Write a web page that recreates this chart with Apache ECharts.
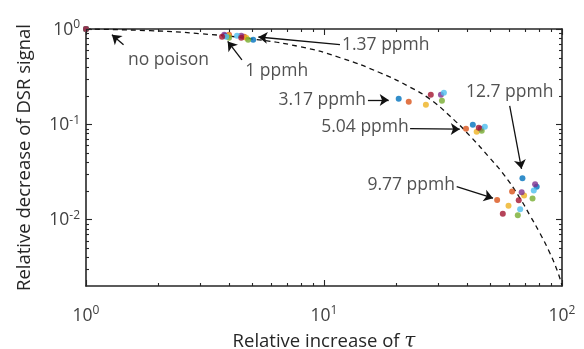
<!DOCTYPE html>
<html>
<head>
<meta charset="utf-8">
<script src="https://cdn.jsdelivr.net/npm/echarts@6/dist/echarts.min.js"></script>
<style>
  html, body { margin: 0; padding: 0; background: #fff; }
  #chart { width: 584px; height: 349px; }
</style>
</head>
<body>
<div id="chart"></div>
<script>
// axis ticks
const xTicks = [1, 10, 100];
const yTicks = [0.01, 0.1, 1];
const xMinor = [2, 3, 4, 5, 6, 7, 8, 9, 20, 30, 40, 50, 60, 70, 80, 90];
const yMinor = [0.003, 0.004, 0.005, 0.006, 0.007, 0.008, 0.009,
  0.02, 0.03, 0.04, 0.05, 0.06, 0.07, 0.08, 0.09,
  0.2, 0.3, 0.4, 0.5, 0.6, 0.7, 0.8, 0.9];

// measured points, one array per sample (no poison, 1, 1.37, 3.17, 5.04, 12.7, 9.77 ppmh)
const blueData = [[1, 1], [3.84, 0.850], [5.04, 0.772], [20.6, 0.185], [42.2, 0.0986], [68.2, 0.0271], [78.3, 0.0220]];
const orangeData = [[1, 1], [3.99, 0.871], [4.62, 0.830], [22.7, 0.172], [39.5, 0.0895], [61.7, 0.0196], [53.4, 0.0160]];
const yellowData = [[1, 1], [3.96, 0.850], [4.71, 0.810], [26.8, 0.160], [43.8, 0.0834], [69.3, 0.0178], [59.6, 0.0139]];
const purpleData = [[1, 1], [3.81, 0.871], [4.49, 0.850], [31.0, 0.204], [45.6, 0.0895], [67.7, 0.0193], [77.1, 0.0234]];
const greenData = [[1, 1], [3.99, 0.810], [4.80, 0.772], [31.3, 0.176], [46.0, 0.0853], [75.2, 0.0166], [65.2, 0.0111]];
const cyanData = [[1, 1], [3.88, 0.830], [4.31, 0.850], [31.9, 0.214], [47.4, 0.094], [76.1, 0.0201], [66.7, 0.0128]];
const redData = [[1, 1], [3.73, 0.830], [4.49, 0.810], [28.1, 0.204], [44.7, 0.0916], [65.8, 0.0159], [56.4, 0.0115]];

// dashed fit curve
const fitCurve = [[1, 1], [1.86, 0.96], [3.02, 0.893], [4.89, 0.791], [7.93, 0.652], [11.7, 0.499],
  [17.2, 0.347], [23.0, 0.245], [27.9, 0.183], [33.8, 0.122], [41.0, 0.0755], [49.7, 0.0443],
  [57.5, 0.0287], [66.5, 0.0168], [73.2, 0.0111], [80.7, 0.0072], [88.9, 0.00444],
  [96.0, 0.0028], [99.8, 0.00205]];

// annotations: text, where the text sits, arrow tail and head
const notes = [
  { text: 'no poison', at: [1.502, 0.475], side: 'right', from: [1.438, 0.684], to: [1.285, 0.871] },
  { text: '1 ppmh', at: [4.67, 0.358], side: 'right', from: [4.52, 0.475], to: [3.94, 0.741] },
  { text: '1.37 ppmh', at: [11.9, 0.684], side: 'right', from: [11.67, 0.684], to: [5.30, 0.824] },
  { text: '3.17 ppmh', at: [15.0, 0.180], side: 'left', from: [15.3, 0.180], to: [18.7, 0.180] },
  { text: '5.04 ppmh', at: [22.7, 0.0939], side: 'left', from: [23.0, 0.0901], to: [37.2, 0.0888] },
  { text: '12.7 ppmh', at: [60.3, 0.219], side: 'inside', from: [60.3, 0.156], to: [67.6, 0.0340] },
  { text: '9.77 ppmh', at: [35.5, 0.0230], side: 'left', from: [36.1, 0.0221], to: [51.3, 0.0167] }
];

const groups = [
  { data: blueData, color: '#0072BD' },
  { data: orangeData, color: '#D95319' },
  { data: yellowData, color: '#EDB120' },
  { data: purpleData, color: '#7E2F8E' },
  { data: greenData, color: '#77AC30' },
  { data: cyanData, color: '#4DBEEE' },
  { data: redData, color: '#A2142F' }
];

const font = 'Open Sans';
const lineCol = '#262626';
const powRich = {
  b: { fontSize: 17.5, fontFamily: font, color: '#404040', lineHeight: 20, verticalAlign: 'bottom' },
  s: { fontSize: 12, fontFamily: font, color: '#404040', lineHeight: 13, verticalAlign: 'top' }
};
const powLabel = v => '{b|10}{s|' + Math.round(Math.log10(v)) + '}';

const xr = [1, 100], yr = [0.002, 1];

function mainAxis(range, pos, labels, extra) {
  return Object.assign({
    type: 'log', logBase: 10, min: range[0], max: range[1], position: pos,
    axisLine: { show: true, lineStyle: { color: lineCol, width: 1.6 } },
    axisTick: { show: false },
    axisLabel: labels ? { show: true, customValues: labels, formatter: powLabel, rich: powRich } : { show: false },
    splitLine: { show: false }
  }, extra || {});
}

// inward tick marks on both sides of the box, placed through the axes' own scales
function tickSeries(values, dim, len) {
  return {
    type: 'custom', silent: true, clip: false, z: 5,
    data: values.map(v => dim === 'x' ? [v, 1] : [1, v]),
    renderItem(params, api) {
      const cs = params.coordSys;
      const st = { stroke: lineCol, lineWidth: 1.1 };
      if (dim === 'x') {
        const x = Math.round(api.coord([api.value(0), 1])[0]) + 0.5;
        const b = cs.y + cs.height, t = cs.y;
        return { type: 'group', children: [
          { type: 'line', shape: { x1: x, y1: b, x2: x, y2: b - len }, style: st },
          { type: 'line', shape: { x1: x, y1: t, x2: x, y2: t + len }, style: st }
        ] };
      }
      const y = Math.round(api.coord([1, api.value(1)])[1]) + 0.5;
      const l = cs.x, r = cs.x + cs.width;
      return { type: 'group', children: [
        { type: 'line', shape: { x1: l, y1: y, x2: l + len, y2: y }, style: st },
        { type: 'line', shape: { x1: r, y1: y, x2: r - len, y2: y }, style: st }
      ] };
    }
  };
}

const option = {
  animation: false,
  backgroundColor: '#fff',
  grid: { left: 86, right: 22, top: 29, bottom: 63, outerBoundsMode: 'none', containLabel: false },
  xAxis: [
    mainAxis(xr, 'bottom', xTicks, {
      axisLabel: { show: true, customValues: xTicks, formatter: powLabel, rich: powRich, margin: 19 },
      name: '{a|Relative increase of }{t|τ}', nameLocation: 'middle', nameGap: 46,
      nameTextStyle: { rich: {
        a: { fontSize: 18.5, fontFamily: font, color: lineCol },
        t: { fontSize: 20, fontFamily: 'DejaVu Serif', fontStyle: 'italic', color: lineCol }
      } }
    }),
    mainAxis(xr, 'top', null)
  ],
  yAxis: [
    mainAxis(yr, 'left', yTicks, {
      axisLabel: { show: true, customValues: yTicks, formatter: powLabel, rich: powRich, margin: 6 },
      name: 'Relative decrease of DSR signal', nameLocation: 'middle', nameGap: 52,
      nameTextStyle: { fontSize: 18.5, fontFamily: font, color: lineCol }
    }),
    mainAxis(yr, 'right', null)
  ],
  series: [
    {
      type: 'line', data: fitCurve, smooth: true, symbol: 'none',
      lineStyle: { color: '#111', width: 1.3, type: [5, 4] }, z: 1
    },
    ...groups.map(g => ({
      type: 'scatter', data: g.data, symbolSize: 6,
      itemStyle: { color: g.color }, z: 3
    })),
    {
      type: 'scatter', symbolSize: 0, z: 4,
      data: notes.map(n => ({
        value: n.at,
        label: {
          show: true, formatter: n.text, position: n.side, distance: 0,
          fontSize: 17.5, fontFamily: font, color: lineCol
        }
      })),
      markLine: {
        silent: true, symbol: ['none', 'arrow'], symbolSize: 9,
        label: { show: false },
        lineStyle: { color: '#111', width: 1.3, type: 'solid' },
        data: notes.map(n => [{ coord: n.from }, { coord: n.to }])
      }
    },
    tickSeries(xTicks, 'x', 6),
    tickSeries(xMinor, 'x', 3),
    tickSeries(yTicks, 'y', 6),
    tickSeries(yMinor, 'y', 3)
  ]
};

const chart = echarts.init(document.getElementById('chart'));
chart.setOption(option);
</script>
</body>
</html>
